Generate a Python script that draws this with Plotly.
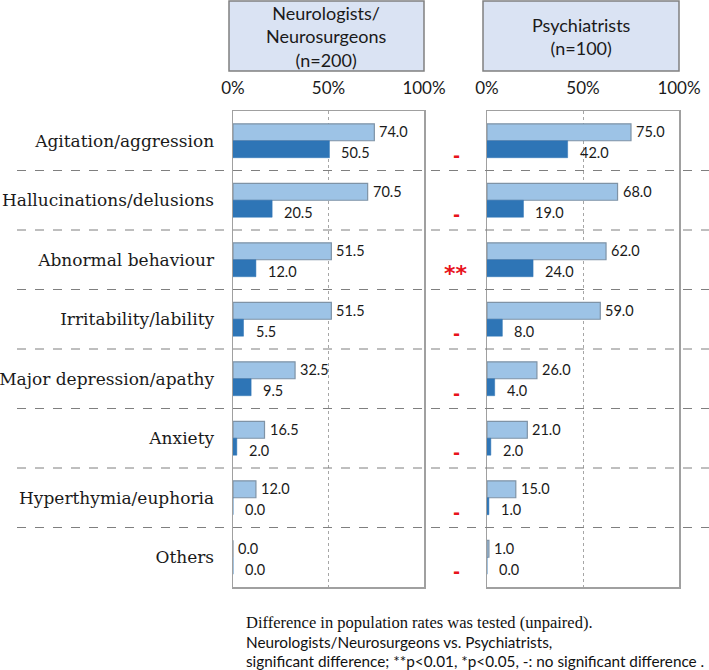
import plotly.graph_objects as go

W, H = 709, 670

categories = ["Agitation/aggression", "Hallucinations/delusions", "Abnormal behaviour",
              "Irritability/lability", "Major depression/apathy", "Anxiety",
              "Hyperthymia/euphoria", "Others"]
neuro_light = [74.0, 70.5, 51.5, 51.5, 32.5, 16.5, 12.0, 0.0]
neuro_dark = [50.5, 20.5, 12.0, 5.5, 9.5, 2.0, 0.0, 0.0]
psych_light = [75.0, 68.0, 62.0, 59.0, 26.0, 21.0, 15.0, 1.0]
psych_dark = [42.0, 19.0, 24.0, 8.0, 4.0, 2.0, 1.0, 0.0]
significance = ["-", "-", "**", "-", "-", "-", "-", "-"]
x_ticks = [0, 50, 100]
x_tick_labels = ["0%", "50%", "100%"]
panel_titles = ["Neurologists/<br>Neurosurgeons<br>(n=200)", "Psychiatrists<br>(n=100)"]
footnote = ["Difference in population rates was tested (unpaired).",
            "Neurologists/Neurosurgeons vs. Psychiatrists,",
            "significant difference; **p<0.01, *p<0.05, -: no significant difference ."]

LIGHT = "#9dc3e6"
LIGHT_LINE = "#7f93a6"
DARK = "#2e75b6"
SANS = "Lato"
SERIF = "DejaVu Serif"
FRAME = "#a0a0a0"

def px(x):
    return x / W

def py(y):
    return 1 - y / H

fig = go.Figure()
for xa, ya, light, dark in [("x", "y", neuro_light, neuro_dark), ("x2", "y2", psych_light, psych_dark)]:
    fig.add_trace(go.Bar(y=categories, x=light, orientation="h", xaxis=xa, yaxis=ya,
                         marker=dict(color=LIGHT, line=dict(color=LIGHT_LINE, width=1.2)),
                         showlegend=False, hoverinfo="skip"))
    fig.add_trace(go.Bar(y=categories, x=dark, orientation="h", xaxis=xa, yaxis=ya,
                         marker=dict(color=DARK, line=dict(color=DARK, width=0.5)),
                         showlegend=False, hoverinfo="skip"))

ann = []
for xa, ya, light, dark in [("x", "y", neuro_light, neuro_dark), ("x2", "y2", psych_light, psych_dark)]:
    for c, lv, dv in zip(categories, light, dark):
        ann.append(dict(x=lv, y=c, xref=xa, yref=ya, text=f"{lv:.1f}", showarrow=False,
                        xanchor="left", yanchor="middle", xshift=3, yshift=9,
                        font=dict(family=SANS, size=14.5, color="#1a1a1a")))
        ann.append(dict(x=dv, y=c, xref=xa, yref=ya, text=f"{dv:.1f}", showarrow=False,
                        xanchor="left", yanchor="middle", xshift=10, yshift=-12,
                        font=dict(family=SANS, size=14.5, color="#1a1a1a")))

for c, s in zip(categories, significance):
    big = s == "**"
    ann.append(dict(x=px(456), y=c, xref="paper", yref="y", text=s, showarrow=False,
                    xanchor="center", yanchor="middle", yshift=-14 if big else -15,
                    font=dict(family="DejaVu Sans", size=22 if big else 17,
                              color="#e8131b", weight="bold")))

# header boxes
boxes = [(229, 1, 424, 71), (483, 1, 679, 71)]
shapes = []
for (x0, y0, x1, y1), t in zip(boxes, panel_titles):
    shapes.append(dict(type="rect", xref="paper", yref="paper", x0=px(x0), x1=px(x1),
                       y0=py(y1), y1=py(y0), fillcolor="#dae3f3",
                       line=dict(color="#808080", width=1.5), layer="below"))
    ann.append(dict(x=px((x0 + x1) / 2), y=py((y0 + y1) / 2), xref="paper", yref="paper",
                    text=t, showarrow=False, xanchor="center", yanchor="middle",
                    font=dict(family=SANS, size=18, color="#1a1a1a")))

# row separators
for i in range(len(categories) - 1):
    shapes.append(dict(type="line", xref="paper", yref="y", x0=px(17), x1=1,
                       y0=i + 0.5, y1=i + 0.5, line=dict(color="#7f7f7f", width=1, dash="dash")))

# footnote
fy = [622, 642, 661]
ffam = ["Liberation Serif", SANS, SANS]
fsize = [16.5, 15.3, 15.3]
for t, yy, fam, fs in zip(footnote, fy, ffam, fsize):
    ann.append(dict(x=px(245), y=py(yy), xref="paper", yref="paper", text=t, showarrow=False,
                    xanchor="left", yanchor="middle", borderpad=0,
                    font=dict(family=fam, size=fs, color="#111")))

ydom = [py(587), py(111)]
xaxis_common = dict(range=[0, 100], tickvals=x_ticks, ticktext=x_tick_labels, side="top",
                    showgrid=True, gridcolor="#a6a6a6", griddash="dot", gridwidth=1,
                    showline=True, linecolor=FRAME, linewidth=1.5, mirror=True,
                    ticks="", ticklabelstandoff=9, zeroline=False, automargin=False,
                    tickfont=dict(family=SANS, size=17, color="#1a1a1a"), fixedrange=True)
fig.update_layout(
    width=W, height=H, autosize=False,
    margin=dict(l=0, r=0, t=0, b=0, pad=0, autoexpand=False),
    paper_bgcolor="white", plot_bgcolor="white",
    barmode="group", bargap=0.43, bargroupgap=0,
    xaxis=dict(domain=[px(233), px(424)], anchor="y", **xaxis_common),
    xaxis2=dict(domain=[px(487), px(679)], anchor="y2", **xaxis_common),
    yaxis=dict(domain=ydom, anchor="x", type="category", autorange="reversed", automargin=False,
               showline=True, linecolor=FRAME, linewidth=1.5, mirror=True,
               showgrid=False, ticks="", ticklabelstandoff=14, fixedrange=True,
               tickfont=dict(family=SERIF, size=17, color="#1a1a1a")),
    yaxis2=dict(domain=ydom, anchor="x2", type="category", matches="y", autorange="reversed",
                automargin=False, fixedrange=True,
                showline=True, linecolor=FRAME, linewidth=1.5, mirror=True,
                showgrid=False, showticklabels=False, ticks=""),
    shapes=shapes, annotations=ann,
)
fig.write_html("out.html", config={"displayModeBar": False, "staticPlot": True},
               post_script="document.body.style.margin='0px';document.body.style.padding='0px';"
                           "document.documentElement.style.overflow='hidden';")
